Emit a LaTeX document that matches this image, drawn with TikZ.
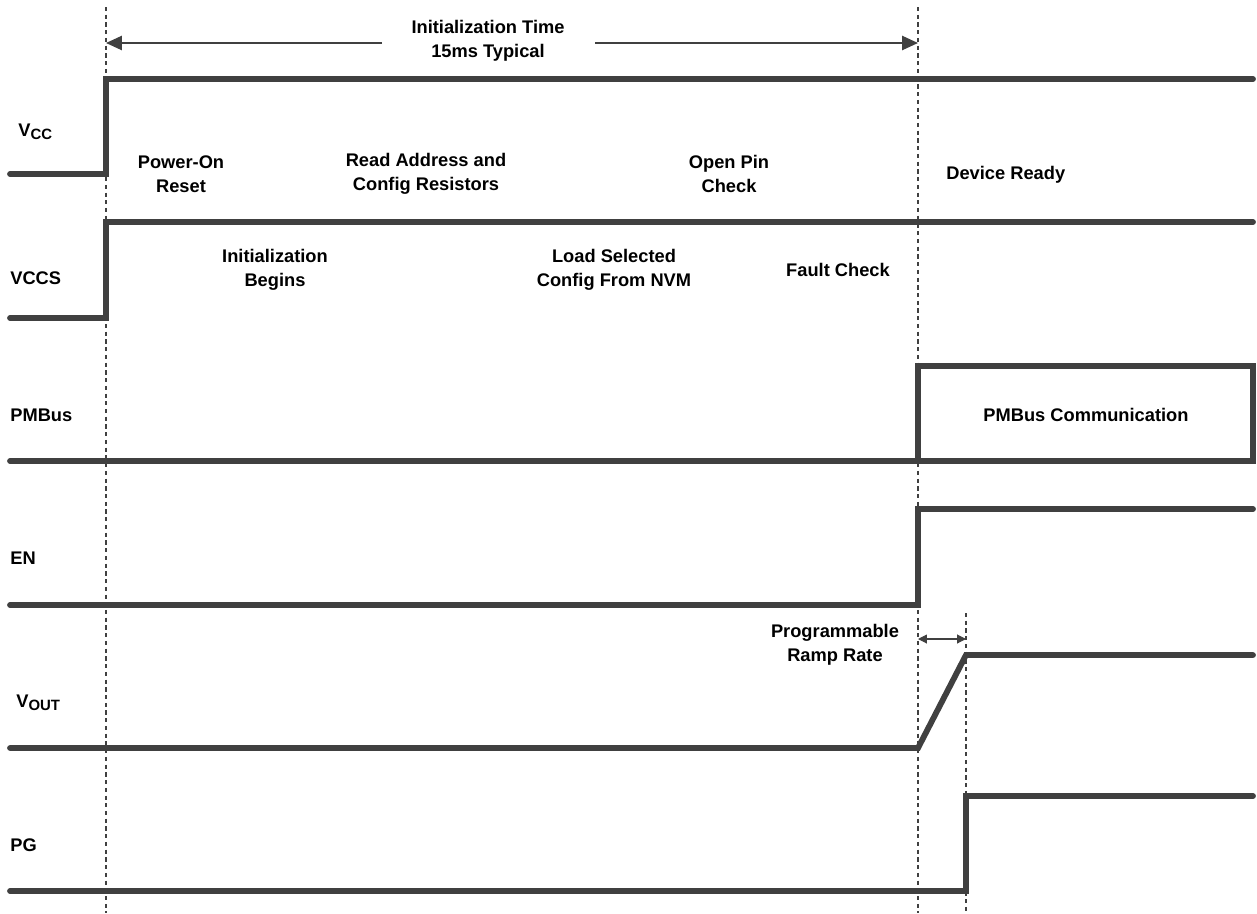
\documentclass[tikz,border=0pt]{standalone}
\usepackage{fontspec}
\setmainfont{Liberation Sans}
\usetikzlibrary{arrows.meta}
\definecolor{wave}{HTML}{404040}
\tikzset{
  sig/.style={line width=3.3pt, color=wave, line cap=round, line join=miter},
  guide/.style={line width=1.3pt, color=wave, dash pattern=on 2.4pt off 2pt},
  lbl/.style={font=\bfseries\fontsize{10.4}{13.6}\selectfont, align=center, inner sep=0pt},
  dimarrow/.style={line width=1.1pt, color=wave, -{Triangle[length=9pt,width=8pt]}},
  dimarrow2/.style={line width=0.6pt, color=wave, {Triangle[length=5pt,width=5pt]}-{Triangle[length=5pt,width=5pt]}}
}
\newcommand{\mysub}[1]{\raisebox{-0.35ex}{\fontsize{8.5}{10}\selectfont #1}}
\begin{document}
\begin{tikzpicture}[x={(0.02cm,0)}, y={(0,-0.02cm)}]
\useasboundingbox (0,0) rectangle (1257,913);
% guides
\draw[guide] (106,7) -- (106,913);
\draw[guide] (918,7) -- (918,913);
\draw[guide] (966,613) -- (966,913);
% top timing arrow
\node[lbl] (itime) at (488,41) {Initialization Time\\15ms Typical};
\coordinate (aL) at (106,43);
\coordinate (aR) at (918,43);
\coordinate (gL) at (382,43);
\coordinate (gR) at (595,43);
\draw[dimarrow] (gL) -- (aL);
\draw[dimarrow] (gR) -- (aR);
% VCC
\draw[sig] (10,174) -- (106,174) -- (106,79) -- (1253,79);
% VCCS
\draw[sig] (10,318) -- (106,318) -- (106,222) -- (1253,222);
% PMBus
\draw[sig] (10,461) -- (1253,461) -- (1253,366) -- (918,366) -- (918,461);
% EN
\draw[sig] (10,605) -- (918,605) -- (918,509) -- (1253,509);
% VOUT
\draw[sig] (10,748) -- (918,748) -- (966,655) -- (1253,655);
% PG
\draw[sig] (10,891) -- (966,891) -- (966,796) -- (1253,796);
% ramp arrow
\coordinate (rL) at (918,639);
\coordinate (rR) at (966,639);
\draw[dimarrow2] (rL) -- (rR);
% signal names
\node[lbl, anchor=west] (nvcc) at (18,132) {V\mysub{CC}};
\node[lbl, anchor=west] (nvccs) at (10,278) {VCCS};
\node[lbl, anchor=west] (npmb) at (10,415) {PMBus};
\node[lbl, anchor=west] (nen) at (10,558) {EN};
\node[lbl, anchor=west] (nvout) at (16,703) {V\mysub{OUT}};
\node[lbl, anchor=west] (npg) at (10,845) {PG};
% phase labels
\node[lbl] (por) at (181,174) {Power-On\\Reset};
\node[lbl] (rad) at (426,174) {Read Address and\\Config Resistors};
\node[lbl] (opc) at (729,174) {Open Pin\\Check};
\node[lbl, anchor=west] (dr) at (946,175) {Device Ready};
\node[lbl] (ib) at (275,270) {Initialization\\Begins};
\node[lbl] (lsc) at (614,270) {Load Selected\\Config From NVM};
\node[lbl] (fc) at (838,270) {Fault Check};
\node[lbl] (pmc) at (1086,415) {PMBus Communication};
\node[lbl] (prr) at (835,645) {Programmable\\Ramp Rate};
\end{tikzpicture}
\end{document}
